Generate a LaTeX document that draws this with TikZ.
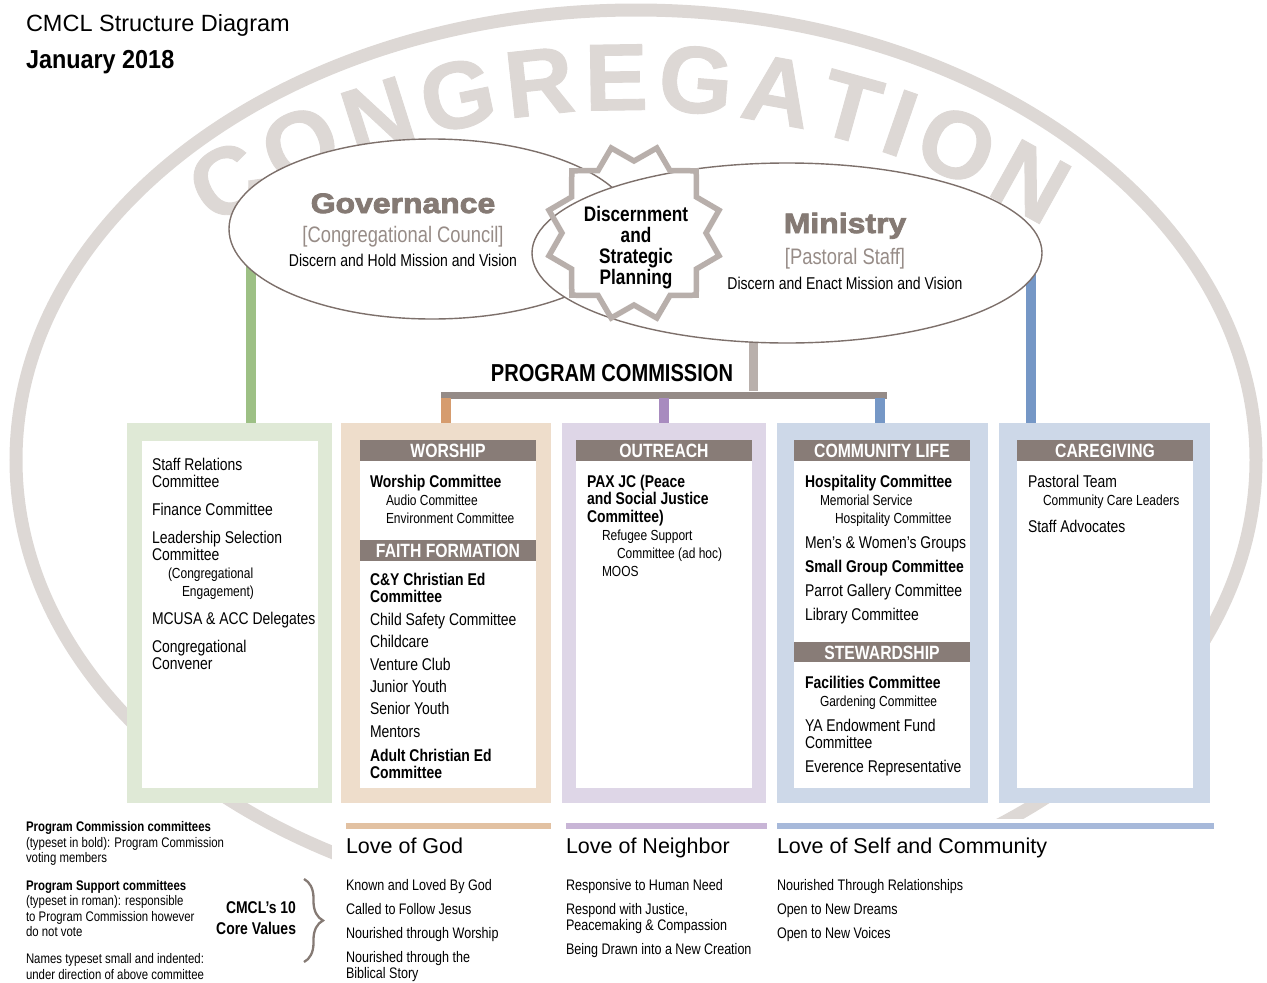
\documentclass[tikz,border=0pt]{standalone}
\usepackage{fontspec}
\setmainfont{Liberation Sans}[FakeStretch=0.82]
\newfontfamily\widefont{Liberation Sans}
\newfontfamily\titlefont{Liberation Sans}[FakeStretch=0.9]
\newfontfamily\heavyfont{Liberation Sans}[BoldFeatures={FakeBold=1}]
\newfontfamily\govfont{Liberation Sans}[FakeStretch=1.14,BoldFeatures={FakeBold=3,FakeStretch=1.14}]
\usetikzlibrary{shapes.geometric,decorations.text,decorations.pathreplacing,fit}
\definecolor{ringc}{HTML}{DDD8D5}
\definecolor{govc}{HTML}{857A74}
\definecolor{brk}{HTML}{978C87}
\definecolor{outl}{HTML}{7D706B}
\definecolor{starc}{HTML}{B8AFAB}
\definecolor{hdr}{HTML}{887C77}
\definecolor{gline}{HTML}{9DC085}
\definecolor{gbox}{HTML}{DFE9D6}
\definecolor{oline}{HTML}{D69C6E}
\definecolor{obox}{HTML}{EEDDCB}
\definecolor{obar}{HTML}{E2C1A2}
\definecolor{pline}{HTML}{A88BBF}
\definecolor{pbox}{HTML}{DED6E7}
\definecolor{pbar}{HTML}{C8B5D6}
\definecolor{bline}{HTML}{7597C6}
\definecolor{bbox}{HTML}{CDD8E8}
\definecolor{bbar}{HTML}{A7B9DA}
\definecolor{gvert}{HTML}{B9B0AC}
\definecolor{ghor}{HTML}{958B87}
\newcommand\congfont{\heavyfont\bfseries\fontsize{95}{95}\selectfont}
\newcommand\Ln[5]{\node[#4] (#1) at (#2,#3) {#5};}
\tikzset{
  ln/.style={anchor=base west, font=\fontsize{17}{19}\selectfont},
  lb/.style={anchor=base west, font=\fontsize{17}{19}\selectfont\bfseries},
  ls/.style={anchor=base west, font=\fontsize{14.6}{16}\selectfont},
  hdt/.style={anchor=base, text=white, font=\fontsize{19.2}{21}\selectfont\bfseries},
  val/.style={anchor=base west, font=\fontsize{15.3}{17}\selectfont},
  leg/.style={anchor=base west, font=\fontsize{13.9}{15}\selectfont},
  legb/.style={anchor=base west, font=\fontsize{13.9}{15}\selectfont\bfseries},
  love/.style={anchor=base west, font=\widefont\fontsize{21.5}{24}\selectfont},
  vline/.style={line width=10pt},
  outline/.style={draw=outl, line width=1.4pt},
}
\begin{document}
\begin{tikzpicture}[x=1pt,y=-1pt,every node/.style={inner sep=0pt,outer sep=0pt}]
\useasboundingbox (0,0) rectangle (1267,983);
% ring
\draw[ringc, line width=13pt] (636,460) ellipse[x radius=620pt, y radius=450pt];
% CONGREGATION
\path[decorate, decoration={text along path, text color=ringc, text={|\congfont|CONGREGATION}, text align={fit to path}}]
  ({628.5+796*cos(121.5)},{906-796*sin(121.5)}) arc[start angle=121.5, end angle=58.5, radius=796pt];
% ellipse nodes
\node[ellipse, minimum width=406pt, minimum height=180pt] (gov) at (432,229) {};
\node[ellipse, minimum width=510pt, minimum height=180pt] (min) at (787,253) {};
% boxes
\node[fill=gbox, fit={(127,423) (332,803)}] (b1) {};
\node[fill=obox, fit={(341,423) (551,803)}] (b2) {};
\node[fill=pbox, fit={(562,423) (766,803)}] (b3) {};
\node[fill=bbox, fit={(777,423) (988,803)}] (b4) {};
\node[fill=bbox, fit={(999,423) (1210,803)}] (b5) {};
\node[fill=white, fit={(142,441) (318,788)}] (i1) {};
\node[fill=white, fit={(360,440) (536,788)}] (i2) {};
\node[fill=white, fit={(576,440) (752,788)}] (i3) {};
\node[fill=white, fit={(794,440) (970,788)}] (i4) {};
\node[fill=white, fit={(1017,440) (1193,788)}] (i5) {};
% connectors
\coordinate (g1) at (251,423);
\coordinate (c5) at (1031,423);
\coordinate (pcj) at (753,391);
\coordinate (barL) at (441,395);
\coordinate (barR) at (887,395);
\coordinate (d2) at (446,398);
\coordinate (d3) at (664,398);
\coordinate (d4) at (880,398);
\draw[gline, vline] (g1 |- gov.center) -- (g1);
\draw[bline, vline] (c5 |- min.center) -- (c5);
\draw[gvert, line width=9pt] (pcj |- min.center) -- (pcj);
\draw[ghor, line width=7pt] (barL) -- (barR);
\draw[oline, vline] (d2) -- (d2 |- b2.north);
\draw[pline, vline] (d3) -- (d3 |- b3.north);
\draw[bline, vline] (d4) -- (d4 |- b4.north);
% ellipses (ministry drawn over governance)
\fill[white] (gov.center) ellipse[x radius=203pt, y radius=90pt];
\draw[outline] (gov.center) ellipse[x radius=203pt, y radius=90pt];
\fill[white] (min.center) ellipse[x radius=255pt, y radius=90pt];
\draw[outline] (min.center) ellipse[x radius=255pt, y radius=90pt];
% star
\begin{scope}[shift={(634,233)}]
\draw[starc, line width=5.5pt, line join=miter] plot[samples=24, domain=0:23, variable=\t] ({15+15*\t}:{mod(\t,2)<0.5 ? 88 : 72}) -- cycle;
\end{scope}
% governance texts
\node[anchor=base, text=govc, font=\govfont\bfseries\fontsize{28}{30}\selectfont] (govt) at (403,213) {Governance};
\node[anchor=base, text=brk, font=\fontsize{22.4}{24}\selectfont] (govs) at (403,242) {[Congregational Council]};
\node[anchor=base, font=\fontsize{17.1}{19}\selectfont] (govd) at (403,266) {Discern and Hold Mission and Vision};
\node[anchor=base, text=govc, font=\govfont\bfseries\fontsize{28}{30}\selectfont] (mint) at (845,233) {Ministry};
\node[anchor=base, text=brk, font=\fontsize{22.4}{24}\selectfont] (mins) at (845,264) {[Pastoral Staff]};
\node[anchor=base, font=\fontsize{17.1}{19}\selectfont] (mind) at (845,289) {Discern and Enact Mission and Vision};
\node[font=\fontsize{21}{21}\selectfont\bfseries, anchor=base] (dsp) at (636,221) {Discernment};
\node[font=\fontsize{21}{21}\selectfont\bfseries, anchor=base] (dsp2) at (636,242) {and};
\node[font=\fontsize{21}{21}\selectfont\bfseries, anchor=base] (dsp3) at (636,263) {Strategic};
\node[font=\fontsize{21}{21}\selectfont\bfseries, anchor=base] (dsp4) at (636,284) {Planning};
\node[anchor=base, font=\fontsize{24.5}{26}\selectfont\bfseries] (pc) at (612,381) {PROGRAM COMMISSION};
% title
\node[anchor=base west, font=\widefont\fontsize{23.5}{25}\selectfont] (title) at (26,31) {CMCL Structure Diagram};
\node[anchor=base west, font=\titlefont\bfseries\fontsize{26}{28}\selectfont] (date) at (26,68) {January 2018};
% headers
\node[fill=hdr, fit={(360,440) (536,461)}] (h2a) {};
\node[fill=hdr, fit={(360,540) (536,561)}] (h2b) {};
\node[fill=hdr, fit={(576,440) (752,461)}] (h3) {};
\node[fill=hdr, fit={(794,440) (970,461)}] (h4a) {};
\node[fill=hdr, fit={(794,642) (970,662)}] (h4b) {};
\node[fill=hdr, fit={(1017,440) (1193,461)}] (h5) {};
\node[hdt] (t2a) at (448,457) {WORSHIP};
\node[hdt] (t2b) at (448,557) {FAITH FORMATION};
\node[hdt] (t3) at (664,457) {OUTREACH};
\node[hdt] (t4a) at (882,457) {COMMUNITY LIFE};
\node[hdt] (t4b) at (882,659) {STEWARDSHIP};
\node[hdt] (t5) at (1105,457) {CAREGIVING};
% box 1
\Ln{a1}{152}{470}{ln}{Staff Relations}
\Ln{a2}{152}{487}{ln}{Committee}
\Ln{a3}{152}{515}{ln}{Finance Committee}
\Ln{a4}{152}{543}{ln}{Leadership Selection}
\Ln{a5}{152}{560}{ln}{Committee}
\Ln{a6}{168}{578}{ls}{(Congregational}
\Ln{a7}{182}{596}{ls}{Engagement)}
\Ln{a8}{152}{624}{ln}{MCUSA \& ACC Delegates}
\Ln{a9}{152}{652}{ln}{Congregational}
\Ln{a10}{152}{669}{ln}{Convener}
% box 2
\Ln{w1}{370}{487}{lb}{Worship Committee}
\Ln{w2}{386}{505}{ls}{Audio Committee}
\Ln{w3}{386}{523}{ls}{Environment Committee}
\Ln{f1}{370}{585}{lb}{C\&Y Christian Ed}
\Ln{f2}{370}{602}{lb}{Committee}
\Ln{f3}{370}{625}{ln}{Child Safety Committee}
\Ln{f4}{370}{647}{ln}{Childcare}
\Ln{f5}{370}{670}{ln}{Venture Club}
\Ln{f6}{370}{692}{ln}{Junior Youth}
\Ln{f7}{370}{714}{ln}{Senior Youth}
\Ln{f8}{370}{737}{ln}{Mentors}
\Ln{f9}{370}{761}{lb}{Adult Christian Ed}
\Ln{f10}{370}{778}{lb}{Committee}
% box 3
\Ln{o1}{587}{487}{lb}{PAX JC (Peace}
\Ln{o2}{587}{504}{lb}{and Social Justice}
\Ln{o3}{587}{522}{lb}{Committee)}
\Ln{o4}{602}{540}{ls}{Refugee Support}
\Ln{o5}{617}{558}{ls}{Committee (ad hoc)}
\Ln{o6}{602}{576}{ls}{MOOS}
% box 4
\Ln{c1}{805}{487}{lb}{Hospitality Committee}
\Ln{c2}{820}{505}{ls}{Memorial Service}
\Ln{c3}{835}{523}{ls}{Hospitality Committee}
\Ln{c4}{805}{548}{ln}{Men’s \& Women’s Groups}
\Ln{c5t}{805}{572}{lb}{Small Group Committee}
\Ln{c6}{805}{596}{ln}{Parrot Gallery Committee}
\Ln{c7}{805}{620}{ln}{Library Committee}
\Ln{s1}{805}{688}{lb}{Facilities Committee}
\Ln{s2}{820}{706}{ls}{Gardening Committee}
\Ln{s3}{805}{731}{ln}{YA Endowment Fund}
\Ln{s4}{805}{748}{ln}{Committee}
\Ln{s5}{805}{772}{ln}{Everence Representative}
% box 5
\Ln{p1}{1028}{487}{ln}{Pastoral Team}
\Ln{p2}{1043}{505}{ls}{Community Care Leaders}
\Ln{p3}{1028}{532}{ln}{Staff Advocates}
% bottom white area
\fill[white] (332,819) rectangle (1267,983);
\fill[obar] (346,823) rectangle (551,829);
\fill[pbar] (566,823) rectangle (767,829);
\fill[bbar] (777,823) rectangle (1214,829);
\Ln{lg}{346}{853}{love}{Love of God}
\Ln{ln}{566}{853}{love}{Love of Neighbor}
\Ln{lc}{777}{853}{love}{Love of Self and Community}
\Ln{v1}{346}{890}{val}{Known and Loved By God}
\Ln{v2}{346}{914}{val}{Called to Follow Jesus}
\Ln{v3}{346}{938}{val}{Nourished through Worship}
\Ln{v4}{346}{962}{val}{Nourished through the}
\Ln{v5}{346}{978}{val}{Biblical Story}
\Ln{n1}{566}{890}{val}{Responsive to Human Need}
\Ln{n2}{566}{914}{val}{Respond with Justice,}
\Ln{n3}{566}{930}{val}{Peacemaking \& Compassion}
\Ln{n4}{566}{954}{val}{Being Drawn into a New Creation}
\Ln{m1}{777}{890}{val}{Nourished Through Relationships}
\Ln{m2}{777}{914}{val}{Open to New Dreams}
\Ln{m3}{777}{938}{val}{Open to New Voices}
% legend
\Ln{k1}{26}{831}{legb}{Program Commission committees}
\Ln{k2}{26}{847}{leg}{(typeset in bold): Program Commission}
\Ln{k3}{26}{862}{leg}{voting members}
\Ln{k4}{26}{890}{legb}{Program Support committees}
\Ln{k5}{26}{905}{leg}{(typeset in roman): responsible}
\Ln{k6}{26}{921}{leg}{to Program Commission however}
\Ln{k7}{26}{936}{leg}{do not vote}
\Ln{k8}{26}{963}{leg}{Names typeset small and indented:}
\Ln{k9}{26}{979}{leg}{under direction of above committee}
\node[anchor=base east, font=\fontsize{17}{19}\selectfont\bfseries] (cv1) at (296,913) {CMCL’s 10};
\node[anchor=base east, font=\fontsize{17}{19}\selectfont\bfseries] (cv2) at (296,934) {Core Values};
\coordinate (brT) at (304,879);
\coordinate (brB) at (304,962);
\draw[govc, line width=2.3pt, decorate, decoration={brace, amplitude=19pt}] (brT) -- (brB);
\end{tikzpicture}
\end{document}
